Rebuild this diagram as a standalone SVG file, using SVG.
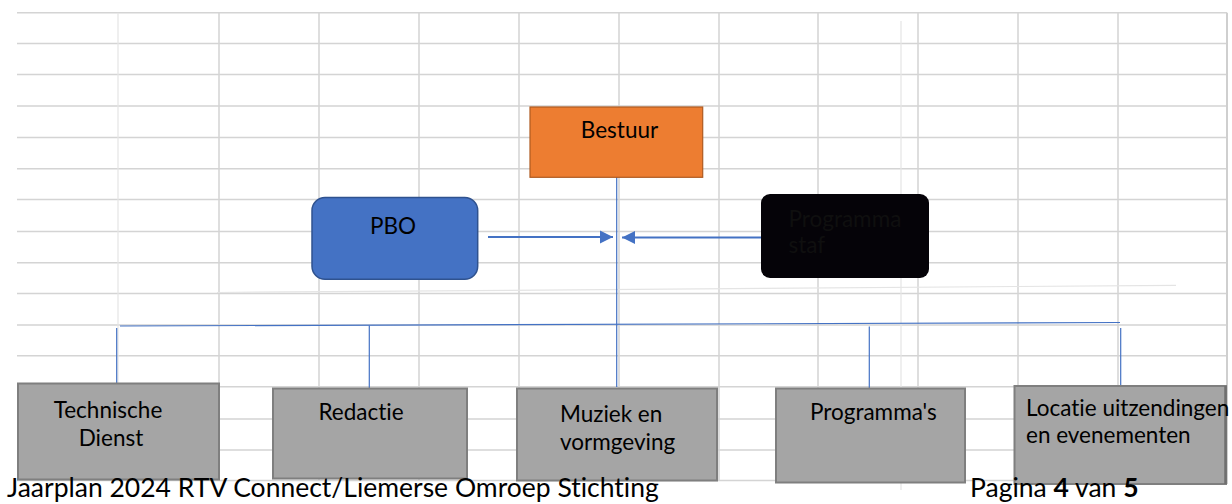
<svg xmlns="http://www.w3.org/2000/svg" width="1232" height="504" viewBox="0 0 1232 504">
<style>
.g{stroke:#D4D4D4;stroke-width:1.5;fill:none}
.gl{stroke:#E4E4E4;stroke-width:1.2;fill:none}
.c{stroke:#4472C4;stroke-width:1.2;fill:none}
.a{stroke:#4472C4;stroke-width:2;fill:none}
.t{font-family:Lato,"Liberation Sans",sans-serif;font-size:22.5px;fill:#000;font-variant-ligatures:none;font-feature-settings:"liga" 0,"clig" 0,"dlig" 0}
.f{font-family:Lato,"Liberation Sans",sans-serif;font-size:26.5px;fill:#000;font-variant-ligatures:none;font-feature-settings:"liga" 0,"clig" 0,"dlig" 0}
.gray{fill:#A5A5A5;stroke:#7F7F7F;stroke-width:2}
</style>
<defs>
<marker id="ah" markerUnits="userSpaceOnUse" markerWidth="14" markerHeight="14" viewBox="0 0 14 14" refX="13" refY="7" orient="auto">
<path d="M0,0.5 L13,7 L0,13.5 Z" fill="#4472C4"/>
</marker>
</defs>
<rect width="1232" height="504" fill="#FFFFFF"/>
<g id="grid">
<path class="g" d="M17,12.7H1227M17,43.5H1227M17,74.5H1227M17,106H1227M17,137.5H1227M17,168.7H1227M17,199.5H1227M17,231.5H1227M17,262.7H1227M17,293.5H1227M17,325H1227M17,355.7H1227M17,386.7H1227M17,419H1227M17,450H1227M17,480.5H1227"/>
<path class="gl" d="M118,12.7V480"/>
<path class="g" d="M219,12.7V480M319,12.7V480M419,12.7V480M519,12.7V480M619,12.7V480M719,12.7V480M818,12.7V480M918,12.7V480M1018,12.7V480M1118,12.7V480"/>
<path d="M1227,12.7V484" stroke="#CFCFCF" stroke-width="2"/>
<path class="gl" d="M901,21V490"/>
<path class="gl" d="M217,292.5L1176,285.3"/>
</g>
<g id="connectors">
<path class="c" d="M616.7,177V387"/>
<path class="c" d="M120,326L1120,322.5"/>
<path class="c" d="M116.7,328V386"/>
<path class="c" d="M369.3,325.5V388"/>
<path class="c" d="M869.3,326.5V388"/>
<path class="c" d="M1120.7,328V385"/>
<path class="a" d="M488,237H613" marker-end="url(#ah)"/>
<path class="a" d="M761,237.5H622" marker-end="url(#ah)"/>
</g>
<g id="bestuur">
<rect x="530" y="107" width="172.7" height="70.3" fill="#ED7D31" stroke="#AE5A21" stroke-width="1.2"/>
<text class="t" x="619.5" y="137.5" text-anchor="middle">Bestuur</text>
</g>
<g id="pbo">
<rect x="312" y="197.5" width="165.7" height="81.8" rx="13" fill="#4472C4" stroke="#2F528F" stroke-width="1.5"/>
<text class="t" x="393" y="233.5" text-anchor="middle">PBO</text>
</g>
<g id="programmastaf">
<rect x="761" y="194" width="168" height="84" rx="9" fill="#050308"/>
<text class="t" x="788.5" y="226.7" style="fill:#0F0F0F">Programma</text>
<text class="t" x="788.5" y="253.3" style="fill:#0F0F0F">staf</text>
</g>
<g id="technische">
<rect class="gray" x="18" y="383.5" width="201" height="96"/>
<text class="t" x="108" y="418.3" text-anchor="middle">Technische</text>
<text class="t" x="111" y="446" text-anchor="middle">Dienst</text>
</g>
<g id="redactie">
<rect class="gray" x="273" y="388.5" width="194" height="90"/>
<text class="t" x="361" y="420" text-anchor="middle">Redactie</text>
</g>
<g id="muziek">
<rect class="gray" x="517" y="388.5" width="200" height="92"/>
<text class="t" x="560" y="421.7">Muziek en</text>
<text class="t" x="560" y="450">vormgeving</text>
</g>
<g id="programmas">
<rect class="gray" x="776" y="388.5" width="189" height="94"/>
<text class="t" x="810" y="420">Programma's</text>
</g>
<g id="locatie">
<rect class="gray" x="1014.5" y="386" width="211.5" height="98"/>
<path d="M1225.5,386V484" stroke="#6F6F6F" stroke-width="2.5"/>
<text class="t" x="1026" y="415.7">Locatie uitzendingen</text>
<text class="t" x="1026" y="442.7">en evenementen</text>
</g>
<g id="footer">
<text class="f" x="7" y="497">Jaarplan 2024 RTV Connect/Liemerse Omroep Stichting</text>
<text class="f" x="970" y="497">Pagina <tspan font-weight="bold">4</tspan> van <tspan font-weight="bold">5</tspan></text>
</g>
</svg>
